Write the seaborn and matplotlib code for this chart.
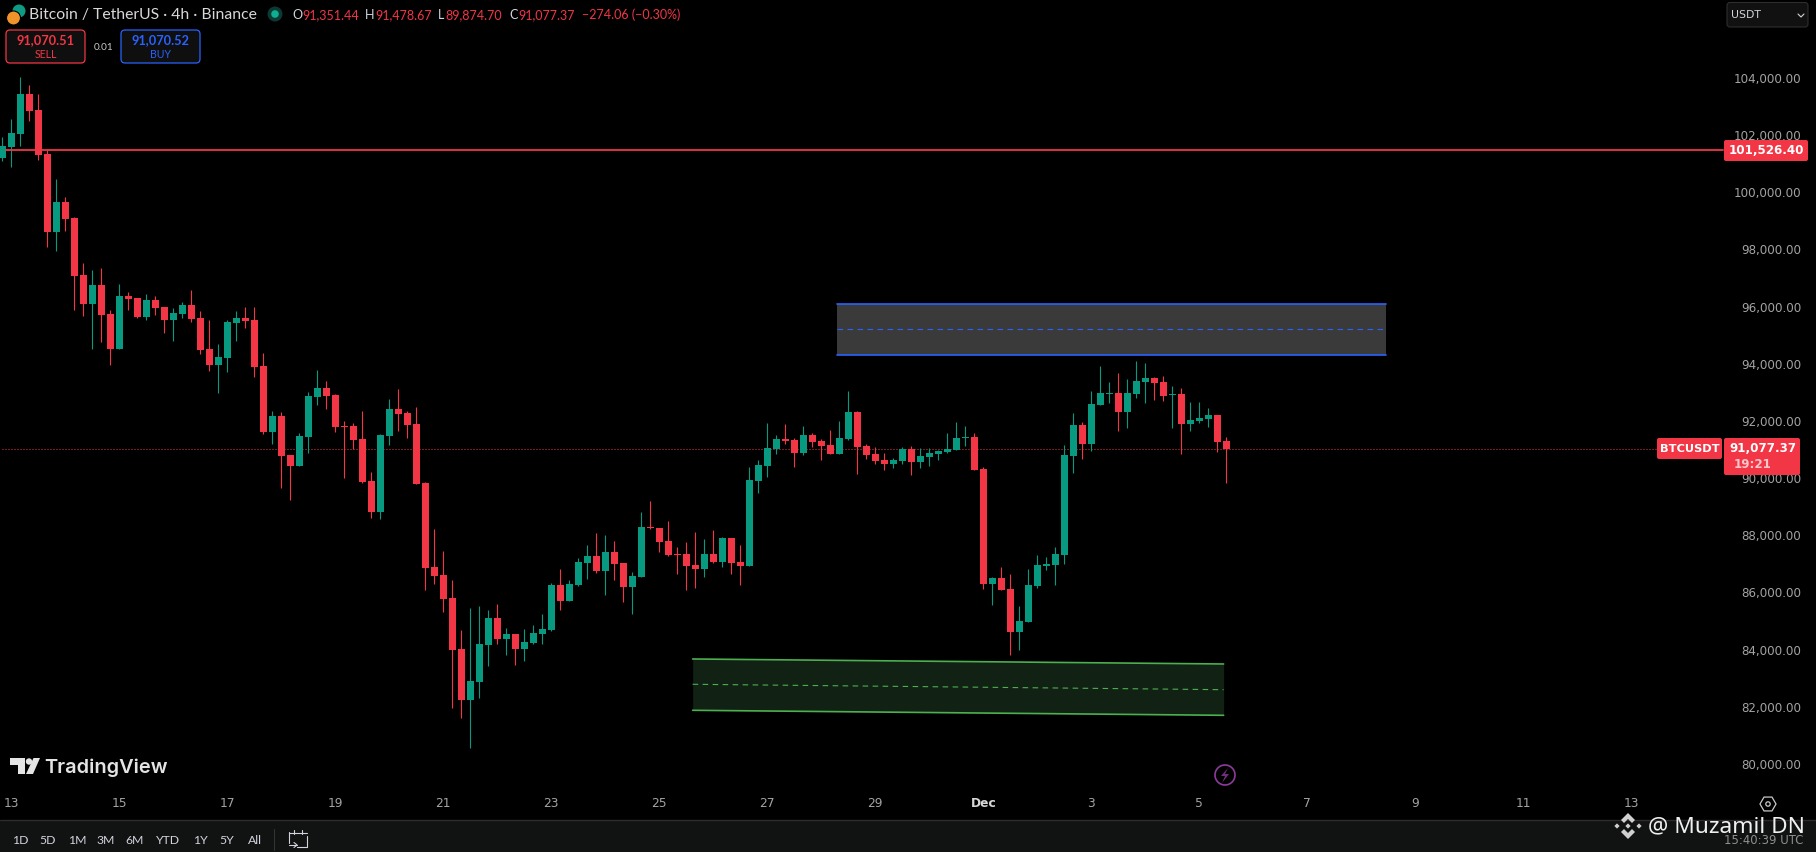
import numpy as np
import pandas as pd
import seaborn as sns
import matplotlib
matplotlib.use('Agg')
import matplotlib.pyplot as plt
from matplotlib.patches import Circle, FancyBboxPatch, Polygon, Rectangle, RegularPolygon
from matplotlib.lines import Line2D
from matplotlib.transforms import Affine2D

opens = [
    101246, 101631, 102086, 103485, 102926, 101386, 98657, 99707, 99147, 97153,
    96138, 96803, 95788, 94564, 96418, 96348, 95683, 96278, 96033, 95578,
    95788, 96103, 95648, 94564, 94004, 94249, 95473, 95648, 95578, 93969,
    91660, 92221, 90856, 90471, 91486, 92885, 93200, 92955, 91871, 91871,
    91416, 89947, 88862, 91521, 92466, 92326, 91941, 89877, 86938, 86658,
    85853, 84069, 82285, 82914, 84209, 85153, 84419, 84594, 84069, 84279,
    84594, 84734, 86308, 85748, 86308, 87078, 87322, 86798, 87462, 87078,
    86238, 86588, 88337, 88302, 87847, 87392, 87392, 87008, 86868, 87392,
    87113, 87952, 87113, 86973, 89946, 90471, 91066, 91416, 91381, 90926,
    91556, 91346, 91206, 90891, 91416, 92360, 91170, 90890, 90681, 90541,
    90646, 91065, 90611, 90785, 90890, 90960, 91030, 91450, 91485, 90366,
    86342, 86552, 86167, 84663, 85013, 86272, 86972, 87007, 87357, 90820,
    91905, 91240, 92605, 92990, 93025, 92360, 92990, 93409, 93549, 93409,
    92955, 92990, 91940, 92045, 92115, 92255, 91351.44,
]
highs = [
    101981, 102599, 104080, 103800, 103485, 101526, 100512, 99882, 99182, 97573,
    97328, 97398, 95928, 96838, 96558, 96348, 96488, 96418, 96033, 95998,
    96208, 96628, 95893, 95578, 94739, 95578, 95893, 96033, 96033, 94424,
    92395, 92361, 90856, 91626, 93060, 93829, 93445, 92990, 92046, 91976,
    92396, 90261, 91591, 92815, 93165, 92396, 92536, 89912, 88267, 87498,
    86483, 84734, 85503, 85573, 85433, 85643, 84804, 84594, 84769, 84909,
    85293, 86378, 86868, 86483, 87253, 87707, 88127, 88057, 87847, 87078,
    86763, 88862, 89247, 88302, 88547, 87637, 87812, 88162, 87917, 88232,
    87987, 87952, 87707, 90436, 90681, 91976, 91556, 91941, 91451, 91871,
    91626, 91416, 91731, 92046, 93095, 92395, 91240, 91135, 90925, 90751,
    91135, 91170, 91100, 91100, 91030, 91625, 92010, 91870, 91625, 90436,
    86587, 86937, 86692, 85573, 86867, 87357, 87287, 87637, 91205, 92325,
    92010, 93095, 93969, 93409, 93724, 93514, 94144, 94074, 93584, 93619,
    93269, 93200, 92710, 92710, 92500, 92255, 91478.67,
]
lows = [
    101141, 100931, 101666, 102541, 101176, 98132, 97993, 98692, 95928, 95718,
    94564, 94809, 94004, 94564, 95928, 95648, 95578, 95753, 95124, 94844,
    95648, 95509, 94389, 93794, 93025, 93759, 94844, 95299, 93584, 91590,
    91240, 89702, 89282, 90471, 90926, 92605, 92466, 91661, 90052, 91066,
    89877, 88652, 88617, 91206, 91696, 91451, 89842, 86133, 86343, 85363,
    82005, 81655, 80605, 82355, 83474, 84244, 83859, 83509, 83649, 84244,
    84244, 84699, 85433, 85748, 86273, 86518, 86728, 85958, 86483, 85713,
    85293, 86588, 88267, 87462, 87322, 86693, 86133, 86203, 86588, 87078,
    86938, 86693, 86308, 86973, 89527, 90086, 90891, 91241, 90436, 90856,
    91136, 90681, 90891, 90891, 91381, 90191, 90716, 90541, 90331, 90401,
    90541, 90156, 90401, 90471, 90681, 90925, 91030, 91170, 90331, 86167,
    85608, 86132, 83858, 84033, 85013, 86202, 86832, 86307, 87042, 90226,
    90716, 90995, 92605, 92675, 91695, 91800, 92850, 92675, 92780, 92745,
    91800, 90890, 91695, 91975, 91835, 90960, 89874.70,
]
closes = [
    101666, 102121, 103485, 102891, 101351, 98657, 99707, 99112, 97118, 96138,
    96803, 95753, 94564, 96418, 96313, 95683, 96278, 95998, 95578, 95823,
    96103, 95613, 94529, 94004, 94284, 95509, 95648, 95543, 93934, 91660,
    92220, 90821, 90471, 91521, 92920, 93200, 92920, 91836, 91836, 91381,
    89912, 88862, 91556, 92466, 92291, 91906, 89842, 86903, 86623, 85818,
    84034, 82285, 82949, 84244, 85153, 84419, 84594, 84069, 84314, 84629,
    84769, 86308, 85748, 86343, 87113, 87322, 86798, 87462, 87043, 86238,
    86623, 88337, 88302, 87812, 87357, 87357, 86973, 86868, 87392, 87113,
    87952, 87078, 86973, 89981, 90506, 91101, 91416, 91346, 90926, 91556,
    91311, 91171, 90891, 91451, 92360, 91136, 90856, 90646, 90541, 90681,
    91065, 90611, 90820, 90925, 90995, 91065, 91450, 91485, 90331, 86342,
    86552, 86132, 84663, 85048, 86307, 87007, 87042, 87392, 90855, 91905,
    91240, 92640, 93025, 93025, 92360, 93025, 93444, 93549, 93374, 92920,
    92990, 91940, 92080, 92150, 92255, 91310, 91077.37,
]

price_ticks = list(range(80000, 106000, 2000))
date_positions = [1, 13, 25, 37, 49, 61, 73, 85, 97, 109, 121, 133, 145, 157, 169, 181]
date_labels = ['13', '15', '17', '19', '21', '23', '25', '27', '29', 'Dec',
               '3', '5', '7', '9', '11', '13']
range_buttons = ['1D', '5D', '1M', '3M', '6M', 'YTD', '1Y', '5Y', 'All']

resistance_price = 101526.40
last_price = 91077.37

blue_x = [92.74, 153.7]
blue_top = [96139, 96139]
blue_mid = [95253, 95253]
blue_bottom = [94355, 94355]

green_x = [76.7, 135.7]
green_top = [83719, 83544]
green_mid = [82834, 82645]
green_bottom = [81924, 81749]

BULL = '#089981'
BEAR = '#f23645'
BLUE = '#2962ff'
GREEN = '#4caf50'
TICK = '#a3a3a3'
W, H = 1816, 852

sns.set_theme(style='dark', rc={'axes.facecolor': 'black', 'figure.facecolor': 'black'})
plt.rcParams['font.family'] = ['DejaVu Sans']

df = pd.DataFrame({'open': opens, 'high': highs, 'low': lows, 'close': closes})
df['idx'] = np.arange(len(df))
df['base'] = df[['open', 'close']].min(axis=1)
df['body'] = (df['close'] - df['open']).abs()

fig = plt.figure(figsize=(W / 100, H / 100), dpi=100, facecolor='black')
ax = fig.add_axes([0, 32 / H, 1, 820 / H], facecolor='black')

# candle bodies, one barplot per direction
for rising, colour in [(True, BULL), (False, BEAR)]:
    part = df[(df['close'] >= df['open']) == rising]
    sns.barplot(data=part, x='idx', y='body', bottom=part['base'], native_scale=True,
                color=colour, saturation=1, width=7 / 9, errorbar=None,
                linewidth=0, ax=ax, zorder=2)
    ax.vlines(part['idx'], part['low'], part['high'], color=colour, lw=0.8, zorder=1.5)

ax.set_xlim(-0.259, 201.52)
ax.set_ylim(78086, 106774)

# price lines
ax.plot([0.4, 191.2], [resistance_price] * 2, color=BEAR, lw=1.3, zorder=3)
ax.plot([0, 183.7], [last_price] * 2, color=BEAR, lw=0.72, dashes=(1, 2), zorder=1)

# zones
ax.fill_between(blue_x, blue_bottom, blue_top, color='#3a3a3a', lw=0, zorder=2.5)
ax.plot(blue_x, blue_top, color=BLUE, lw=1.2, zorder=3)
ax.plot(blue_x, blue_bottom, color=BLUE, lw=1.2, zorder=3)
ax.plot(blue_x, blue_mid, color=BLUE, lw=0.8, dashes=(5, 4), zorder=3)
ax.fill_between(green_x, green_bottom, green_top, color='#112113', lw=0, zorder=2.5)
ax.plot(green_x, green_top, color=GREEN, lw=1.2, zorder=3)
ax.plot(green_x, green_bottom, color=GREEN, lw=1.2, zorder=3)
ax.plot(green_x, green_mid, color=GREEN, lw=0.8, dashes=(5, 4), zorder=3)

ax.set_xlabel('')
ax.set_ylabel('')
ax.grid(False)
for spine in ax.spines.values():
    spine.set_visible(False)
ax.yaxis.tick_right()
ax.set_yticks(price_ticks, [f'{p:,.2f}' for p in price_ticks], ha='right', color=TICK, fontsize=8.6)
ax.set_xticks(date_positions, date_labels, color=TICK, fontsize=8.8, va='center')
ax.tick_params(axis='y', length=0, pad=-10.6)
ax.tick_params(axis='x', length=0, pad=-12.2)
# the price labels sit a little above their level
for lab in ax.get_yticklabels():
    lab.set_transform(lab.get_transform() + Affine2D().translate(0, 1.4))
for lab in ax.get_xticklabels():
    if lab.get_text() == 'Dec':
        lab.set_fontweight('bold')
        lab.set_color('#d8d8d8')

# everything below sits in pixel coordinates, y going down
px = Affine2D().scale(1, -1).translate(0, H)


def txt(x, y, s, color='#d1d4dc', size=8.6, ha='left', family='Roboto', weight='normal', z=5):
    fig.text(x, y, s, transform=px, color=color, fontsize=size, ha=ha, va='center',
             family=family, fontweight=weight, zorder=z)


def box(x0, y0, x1, y1, face, edge='none', lw=0.0, r=3, z=2):
    fig.add_artist(FancyBboxPatch((x0 + r, y0 + r), x1 - x0 - 2 * r, y1 - y0 - 2 * r,
                                  boxstyle=f'round,pad={r},rounding_size={r}', transform=px,
                                  facecolor=face, edgecolor=edge, linewidth=lw, zorder=z))


def poly(points, color, z=4):
    fig.add_artist(Polygon(points, closed=True, transform=px, facecolor=color,
                           edgecolor='none', zorder=z))


def pline(xs, ys, color, lw=1.0, z=4):
    fig.add_artist(Line2D(xs, ys, transform=px, color=color, lw=lw, zorder=z))


# header
fig.add_artist(Circle((19, 11), 6.5, transform=px, facecolor='#0e9b84', edgecolor='none', zorder=3))
fig.add_artist(Circle((13.5, 18), 7, transform=px, facecolor='#f0932b', edgecolor='black', lw=0.8, zorder=4))
txt(29, 15, 'Bitcoin / TetherUS · 4h · Binance', size=11.3, family='Lato', color='#d8d8d8')
fig.add_artist(Circle((275, 14), 7.5, transform=px, facecolor='#0b3a32', edgecolor='none', zorder=3))
fig.add_artist(Circle((275, 14), 3.8, transform=px, facecolor='#0fae94', edgecolor='none', zorder=4))
for x, s, c in [(292, 'O', '#d1d4dc'), (302.7, '91,351.44', BEAR), (365, 'H', '#d1d4dc'),
                (375, '91,478.67', BEAR), (438, 'L', '#d1d4dc'), (445.5, '89,874.70', BEAR),
                (509, 'C', '#d1d4dc'), (518, '91,077.37', BEAR),
                (581.7, '−274.06 (−0.30%)', BEAR)]:
    txt(x, 15, s, color=c, size=9, family='Lato')

box(6, 30, 85, 63, '#0f0f0f', BEAR, 0.9, r=4)
txt(45.5, 40, '91,070.51', color=BEAR, size=9.2, ha='center', weight='bold', family='Lato')
txt(45.5, 54, 'SELL', color=BEAR, size=7.6, ha='center', family='Lato')
txt(103.6, 47, '0.01', size=7.2, ha='center', family='Lato', color='#c8c8c8')
box(121, 30, 200, 63, '#0f0f0f', BLUE, 0.9, r=4)
txt(160.5, 40, '91,070.52', color=BLUE, size=9.2, ha='center', weight='bold', family='Lato')
txt(160.5, 54, 'BUY', color=BLUE, size=7.6, ha='center', family='Lato')

box(1727, 2.5, 1808, 27, '#111111', '#2e2e2e', 0.8, r=3)
txt(1731, 15, 'USDT', size=7.8, family='DejaVu Sans', color='#d1d4dc')
pline([1798, 1801, 1804], [14, 17, 14], '#d1d4dc', 0.8)

# price labels
box(1724, 140, 1808, 161, BEAR, r=2)
txt(1766, 150.5, '101,526.40', color='white', size=8.6, ha='center', family='DejaVu Sans', weight='bold')
box(1657, 438, 1722, 459, BEAR, r=2)
txt(1689.5, 448.5, 'BTCUSDT', color='white', size=8.2, ha='center', family='DejaVu Sans', weight='bold')
box(1724, 438, 1800, 475, BEAR, r=2)
txt(1763, 448.5, '91,077.37', color='white', size=8.6, ha='center', family='DejaVu Sans', weight='bold')
txt(1733.5, 464, '19:21', color='#f8c6cb', size=8.6, family='DejaVu Sans', weight='bold')

# TradingView logo
poly([(10, 758), (25, 758), (25, 774), (18, 774), (18, 765), (10, 765)], '#e4e4e4')
fig.add_artist(Circle((29, 761.5), 3.2, transform=px, facecolor='#e4e4e4', edgecolor='none', zorder=4))
poly([(33.5, 758), (40, 758), (33, 774), (26, 774)], '#e4e4e4')
txt(44.5, 767.5, 'TradingView', color='#e4e4e4', size=14.4, family='Inter', weight='semibold')

# lightning icon
fig.add_artist(Circle((1225, 775), 10, transform=px, facecolor='none', edgecolor='#8e3a9d', lw=1.2, zorder=4))
poly([(1228, 768), (1221, 776), (1225, 776), (1222, 783), (1229, 774), (1225, 774)], '#6f2f7d')

# settings hexagon
fig.add_artist(RegularPolygon((1768, 804), 6, radius=8, orientation=np.pi / 6, transform=px,
                              facecolor='none', edgecolor='#c8c8c8', lw=0.9, zorder=4))
fig.add_artist(Circle((1768, 804), 2.2, transform=px, facecolor='none', edgecolor='#c8c8c8', lw=0.9, zorder=4))

# bottom toolbar
fig.add_artist(Rectangle((0, 820), W, 32, transform=px, facecolor='#111212', edgecolor='none', zorder=2))
pline([0, W], [820, 820], '#2c2c2c', 1.0, z=2.5)
for x, s in zip([20, 48, 77, 106, 135, 168, 200, 227, 255], range_buttons):
    txt(x, 840, s, ha='center', size=8.8, family='Lato', color='#d1d4dc')
pline([274, 274], [829, 850], '#333333', 0.8)
pline([307, 307, 297], [836, 847, 847], '#d1d4dc', 0.8)
pline([289, 289], [843, 832], '#d1d4dc', 0.8)
pline([289, 307], [832.5, 832.5], '#d1d4dc', 0.8)
pline([294, 294], [830, 834], '#d1d4dc', 0.8)
pline([302, 302], [830, 834], '#d1d4dc', 0.8)
pline([289, 297], [845, 845], '#d1d4dc', 0.8)
pline([294, 297, 294], [842.5, 845, 847.5], '#d1d4dc', 0.8)
txt(1803, 840, '15:40:39 UTC', ha='right', size=8.4, family='DejaVu Sans', color='#8f8f8f')

# watermark
cx, cy = 1628, 826
poly([(cx, cy - 13), (cx + 7, cy - 6), (cx + 4, cy - 3), (cx, cy - 7), (cx - 4, cy - 3), (cx - 7, cy - 6)], '#d0d0d0', z=6)
poly([(cx, cy + 13), (cx + 7, cy + 6), (cx + 4, cy + 3), (cx, cy + 7), (cx - 4, cy + 3), (cx - 7, cy + 6)], '#d0d0d0', z=6)
for dx in (-11, 0, 11):
    poly([(cx + dx, cy - 2.6), (cx + dx + 2.6, cy), (cx + dx, cy + 2.6), (cx + dx - 2.6, cy)], '#d0d0d0', z=6)
txt(1648, 827, '@ Muzamil DN', color='#f0f0f0', size=16.3, family='Noto Sans', z=6)

fig.savefig('out.png', dpi=100, facecolor='black')
